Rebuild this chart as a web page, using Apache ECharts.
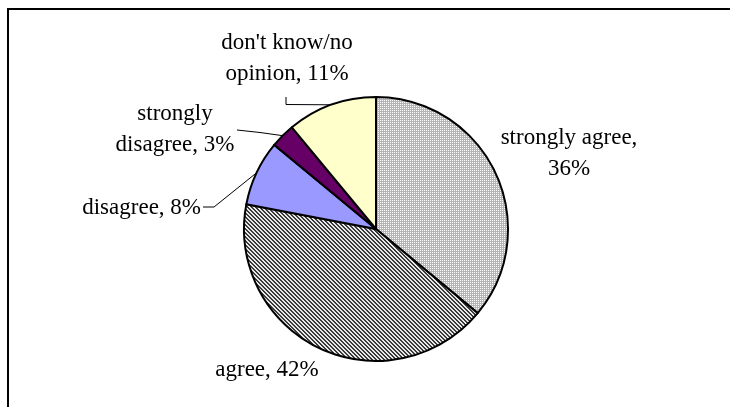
<!DOCTYPE html>
<html><head><meta charset="utf-8">
<script src="https://cdn.jsdelivr.net/npm/echarts@6/dist/echarts.min.js"></script>
<style>html,body{margin:0;padding:0;background:#fff}#c{width:730px;height:407px}</style>
</head><body><div id="c"></div>
<script>
// ---- data ----
const categories = ['strongly agree', 'agree', 'disagree', 'strongly disagree', "don't know/no opinion"];
const values = [36, 42, 8, 3, 11];
// how each category's label is wrapped (text layout only)
const wrappedNames = ['strongly agree,\n', 'agree, ', 'disagree, ', 'strongly\ndisagree, ', "don't know/no\nopinion, "];

// ---- style ----
const CX = 376, CY = 229, R = 132;
function dotPattern() {
  const c = document.createElement('canvas'); c.width = 2; c.height = 2;
  const g = c.getContext('2d');
  g.fillStyle = '#b4b4b4'; g.fillRect(0, 0, 2, 2);
  g.fillStyle = '#ffffff'; g.fillRect(0, 0, 1, 1);
  return c;
}
function hatchPattern() {
  const c = document.createElement('canvas'); c.width = 4; c.height = 4;
  const g = c.getContext('2d');
  for (let y = 0; y < 4; y++) for (let x = 0; x < 4; x++) {
    const k = ((x - y) % 4 + 4) % 4;
    g.fillStyle = k < 2 ? '#3a3a3a' : '#e8e8e8';
    g.fillRect(x, y, 1, 1);
  }
  return c;
}
const fills = [
  { image: dotPattern(), repeat: 'repeat' },
  { image: hatchPattern(), repeat: 'repeat' },
  '#9999ff', '#660066', '#ffffcc'
];
const showLine = [false, false, true, true, true];
// label anchor positions (x, y, align) and label-line bends
const labelPos = [
  { x: 569, y: 153, align: 'center' },
  { x: 267, y: 370, align: 'center' },
  { x: 201, y: 208, align: 'right', bends: [[214, 207], [203, 207]] },
  { x: 175, y: 129, align: 'center', bends: [[260, 132.5], [237, 130]] },
  { x: 287, y: 58, align: 'center', bends: [[286, 104.5], [286, 97]] }
];

const total = values.reduce((a, b) => a + b, 0);
function edgePoint(i) {
  let cum = 0; for (let k = 0; k < i; k++) cum += values[k];
  const mid = (cum + values[i] / 2) / total * 2 * Math.PI; // clockwise from 12 o'clock
  return [CX + R * Math.sin(mid), CY - R * Math.cos(mid)];
}

const chart = echarts.init(document.getElementById('c'), null, { renderer: 'canvas' });
chart.setOption({
  backgroundColor: '#ffffff',
  animation: false,
  graphic: [{
    type: 'rect', silent: true,
    shape: { x: 8, y: 9, width: 760, height: 430 },
    style: { fill: 'none', stroke: '#000', lineWidth: 2 }
  }],
  series: [{
    type: 'pie',
    center: [CX, CY],
    radius: R,
    startAngle: 90,
    clockwise: true,
    itemStyle: { borderColor: '#000', borderWidth: 2 },
    label: {
      show: true,
      position: 'outside',
      color: '#000',
      fontFamily: 'Liberation Serif',
      fontSize: 23,
      lineHeight: 31,
      formatter: p => wrappedNames[p.dataIndex] + p.value + '%'
    },
    labelLine: { show: true, lineStyle: { color: '#000', width: 1 } },
    labelLayout: function (params) {
      const i = params.dataIndex, L = labelPos[i];
      const out = { x: L.x, y: L.y, align: L.align, verticalAlign: 'middle' };
      if (L.bends) out.labelLinePoints = [edgePoint(i)].concat(L.bends);
      return out;
    },
    emphasis: { disabled: true },
    data: categories.map((name, i) => ({
      name: name,
      value: values[i],
      itemStyle: { color: fills[i] },
      labelLine: { show: showLine[i] }
    }))
  }]
});
</script></body></html>
